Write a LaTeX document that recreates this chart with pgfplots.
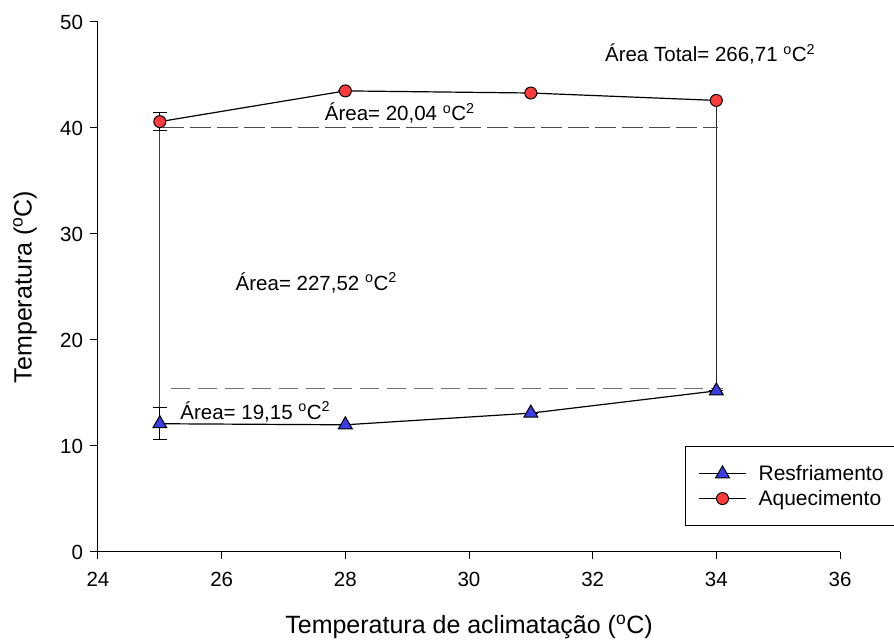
\documentclass[border=0pt]{standalone}
\usepackage{fontspec}
\setmainfont{Liberation Sans}
\usepackage{pgfplots}
\pgfplotsset{compat=1.18}
\definecolor{myred}{RGB}{255,60,60}
\definecolor{myblue}{RGB}{60,60,230}
\begin{document}
\begin{tikzpicture}
\begin{axis}[
  width=742pt, height=530pt, scale only axis,
  xmin=24, xmax=36, ymin=0, ymax=50,
  axis lines=left, axis line style={-, line width=1pt},
  xtick={24,26,...,36}, ytick={0,10,...,50},
  tick align=outside, major tick length=7.5pt,
  tick style={line width=1pt, black},
  /pgf/number format/assume math mode=true,
  ticklabel style={font=\fontsize{20.5}{24}\selectfont},
  xticklabel style={yshift=-9pt},
  yticklabel style={xshift=-4pt},
  label style={font=\fontsize{25}{30}\selectfont},
  xlabel={Temperatura de aclimatação (\textsuperscript{o}C)},
  ylabel={Temperatura (\textsuperscript{o}C)},
  xlabel style={at={(axis description cs:0.5,-0.1415)}, anchor=center},
  ylabel style={at={(axis description cs:-0.0985,0.5)}, anchor=center},
  clip=false,
  legend style={at={(0.791,0.2)}, anchor=north west, draw=black, line width=1pt,
    font=\fontsize{21}{25}\selectfont, inner xsep=13pt, inner ysep=17pt,
    row sep=4pt, column sep=10pt},
  legend cell align=left,
  legend image code/.code={\draw[mark repeat=2,mark phase=2,#1] plot coordinates {(0pt,0pt) (23.5pt,0pt) (47pt,0pt)};},
]
\coordinate (O) at (rel axis cs:0,0);
% vertical connectors
\addplot[forget plot, black!75, line width=1pt] coordinates {(25,39.7) (25,13.6)};
\addplot[forget plot, black!85, line width=1pt] coordinates {(34,42.6) (34,15.2)};
% dashed lines
\addplot[forget plot, black!70, line width=1pt, dash pattern=on 21pt off 6pt] coordinates {(25.05,40.0) (34.03,40.0)};
\addplot[forget plot, black!55, line width=1pt, dash pattern=on 19pt off 8pt] coordinates {(25.18,15.4) (34.1,15.4)};
% Resfriamento
\addplot[black, line width=1.2pt, mark=triangle*, mark size=8pt,
  mark options={fill=myblue, draw=black, line width=1pt},
  error bars/.cd, y dir=both, y explicit, error mark=|,
  error bar style={black, line width=1pt},
  error mark options={black, line width=1pt, mark size=7pt}]
  coordinates {(25,12.1) +- (0,1.5) (28,12.0) +- (0,0) (31,13.1) +- (0,0) (34,15.2) +- (0,0)};
\addlegendentry{Resfriamento}
% Aquecimento
\addplot[black, line width=1.2pt, mark=*, mark size=6pt,
  mark options={fill=myred, draw=black, line width=1pt},
  error bars/.cd, y dir=both, y explicit, error mark=|,
  error bar style={black, line width=1pt},
  error mark options={black, line width=1pt, mark size=7pt}]
  coordinates {(25,40.6) +- (0,0.85) (28,43.5) +- (0,0) (31,43.3) +- (0,0) (34,42.6) +- (0,0)};
\addlegendentry{Aquecimento}
\node[anchor=base, font=\fontsize{20.5}{24}\selectfont, inner sep=0pt] at (axis cs:28.88,40.7) {Área= 20,04 \textsuperscript{o}C\textsuperscript{2}};
\node[anchor=base, font=\fontsize{20.5}{24}\selectfont, inner sep=0pt] at (axis cs:27.53,24.7) {Área= 227,52 \textsuperscript{o}C\textsuperscript{2}};
\node[anchor=base west, font=\fontsize{20.5}{24}\selectfont, inner sep=0pt] at (axis cs:25.33,12.5) {Área= 19,15 \textsuperscript{o}C\textsuperscript{2}};
\node[anchor=base, font=\fontsize{20.5}{24}\selectfont, inner sep=0pt] at (axis cs:33.9,46.25) {Área Total= 266,71 \textsuperscript{o}C\textsuperscript{2}};
\end{axis}
\pgfresetboundingbox
\path[use as bounding box] (O) ++(-98pt,-92pt) rectangle ++(894pt,644pt);
\end{tikzpicture}
\end{document}
